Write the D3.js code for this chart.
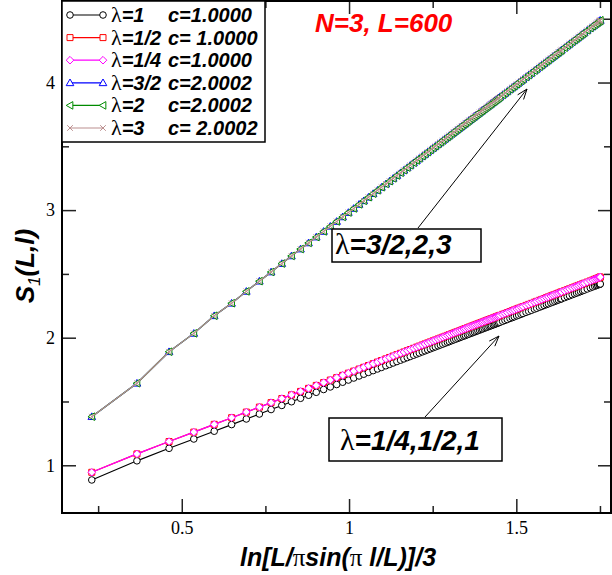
<!DOCTYPE html>
<html><head><meta charset="utf-8">
<script src="https://cdn.jsdelivr.net/npm/d3@7"></script>
<style>body{margin:0;background:#fff}svg{display:block}</style>
</head><body><svg id="c" width="612" height="575"></svg>
<script>
// x = ln[L/pi sin(pi l/L)]/3 (l = 2 ... 300)
const xValues = [0.231,0.366,0.462,0.536,0.597,0.649,0.693,0.732,0.767,0.799,
 0.828,0.855,0.879,0.902,0.924,0.944,0.963,0.981,0.998,1.014,
 1.030,1.044,1.058,1.072,1.085,1.097,1.110,1.121,1.132,
 1.143,1.154,1.164,1.174,1.183,1.193,1.202,1.210,1.219,1.227,
 1.235,1.243,1.251,1.258,1.266,1.273,1.280,1.287,1.294,1.300,
 1.307,1.313,1.319,1.325,1.331,1.337,1.343,1.348,1.354,1.359,
 1.365,1.370,1.375,1.380,1.385,1.390,1.395,1.399,1.404,1.409,
 1.413,1.418,1.422,1.426,1.431,1.435,1.439,1.443,1.447,1.451,
 1.459,1.466,1.473,1.481,1.488,1.494,1.501,1.507,1.514,1.520,
 1.529,1.537,1.545,1.554,1.561,1.569,1.576,1.583,1.590,1.596,
 1.603,1.609,1.615,1.621,1.626,1.632,
 1.635,1.644,1.652,1.659,1.667,1.674,1.680,1.686,1.692,1.698,1.703,
 1.712,1.721,1.728,1.734,1.739,1.743,1.747,1.749,1.750,1.751];

// lambda = 1
const sLambda1 = [0.885,1.035,1.133,1.206,1.267,1.319,1.363,1.402,1.437,1.469,
 1.498,1.525,1.549,1.572,1.594,1.614,1.633,1.651,1.668,1.684,
 1.700,1.714,1.728,1.742,1.755,1.767,1.780,1.791,1.802,
 1.813,1.824,1.834,1.844,1.853,1.863,1.872,1.880,1.889,1.897,
 1.905,1.913,1.921,1.928,1.936,1.943,1.950,1.957,1.964,1.970,
 1.977,1.983,1.989,1.995,2.001,2.007,2.013,2.018,2.024,2.029,
 2.035,2.040,2.045,2.050,2.055,2.060,2.065,2.069,2.074,2.079,
 2.083,2.088,2.092,2.096,2.101,2.105,2.109,2.113,2.117,2.121,
 2.129,2.136,2.143,2.151,2.158,2.164,2.171,2.177,2.184,2.190,
 2.199,2.207,2.215,2.224,2.231,2.239,2.246,2.253,2.260,2.266,
 2.273,2.279,2.285,2.291,2.296,2.302,
 2.305,2.314,2.322,2.329,2.337,2.344,2.350,2.356,2.362,2.368,2.373,
 2.382,2.391,2.398,2.404,2.409,2.413,2.417,2.419,2.420,2.421];

// lambda = 1/2 and 1/4 (coincide in the picture)
const sLambdaHalfQuarter = [0.945,1.089,1.186,1.260,1.321,1.373,1.417,1.456,1.491,1.523,
 1.552,1.579,1.603,1.626,1.648,1.668,1.687,1.705,1.722,1.738,
 1.754,1.768,1.782,1.796,1.809,1.821,1.834,1.845,1.856,
 1.867,1.878,1.888,1.898,1.907,1.917,1.926,1.934,1.943,1.951,
 1.959,1.967,1.975,1.982,1.990,1.997,2.004,2.011,2.018,2.024,
 2.031,2.037,2.043,2.049,2.055,2.061,2.067,2.072,2.078,2.083,
 2.089,2.094,2.099,2.104,2.109,2.114,2.119,2.123,2.128,2.133,
 2.137,2.142,2.146,2.150,2.155,2.159,2.163,2.167,2.171,2.175,
 2.183,2.190,2.197,2.205,2.212,2.218,2.225,2.231,2.238,2.244,
 2.253,2.261,2.269,2.278,2.285,2.293,2.300,2.307,2.314,2.320,
 2.327,2.333,2.339,2.345,2.350,2.356,
 2.359,2.368,2.376,2.383,2.391,2.398,2.404,2.410,2.416,2.422,2.427,
 2.436,2.445,2.452,2.458,2.463,2.467,2.471,2.473,2.474,2.475];

// lambda = 3/2, 2, 3 (coincide in the picture)
const sLambdaUpper = [1.381,1.643,1.890,2.034,2.172,2.270,2.363,2.443,2.515,2.581,
 2.641,2.695,2.743,2.789,2.833,2.873,2.911,2.947,2.981,3.013,
 3.045,3.073,3.101,3.129,3.155,3.179,3.205,3.227,3.249,
 3.271,3.293,3.313,3.333,3.351,3.371,3.389,3.405,3.423,3.439,
 3.455,3.471,3.487,3.501,3.517,3.531,3.545,3.559,3.573,3.585,
 3.599,3.611,3.623,3.635,3.647,3.659,3.671,3.681,3.693,3.703,
 3.715,3.725,3.735,3.745,3.755,3.765,3.775,3.783,3.793,3.803,
 3.811,3.821,3.829,3.837,3.847,3.855,3.863,3.871,3.879,3.887,
 3.903,3.917,3.931,3.947,3.961,3.973,3.987,3.999,4.013,4.025,
 4.043,4.059,4.075,4.093,4.107,4.123,4.137,4.151,4.165,4.177,
 4.191,4.203,4.215,4.227,4.237,4.249,
 4.255,4.273,4.289,4.303,4.319,4.333,4.345,4.357,4.369,4.381,4.391,
 4.409,4.427,4.441,4.453,4.463,4.471,4.479,4.483,4.485,4.487];

const lambdaLabels = ["1","1/2","1/4","3/2","2","3"];
const cLabels = ["c=1.0000","c= 1.0000","c=1.0000","c=2.0002","c=2.0002","c= 2.0002"];
const xMajorTicks = [0.5, 1, 1.5];
const xMinorTicks = [0.25, 0.75, 1.25, 1.75];
const yMajorTicks = [1, 2, 3, 4];
const yMinorTicks = [1.5, 2.5, 3.5, 4.5];

const series = [
  {values: sLambda1, color: "#000000", sym: "circle"},
  {values: sLambdaHalfQuarter, color: "#ff0000", sym: "square"},
  {values: sLambdaHalfQuarter, color: "#ff00ff", sym: "diamond"},
  {values: sLambdaUpper, color: "#0000ff", sym: "triUp"},
  {values: sLambdaUpper, color: "#008b00", sym: "triLeft"},
  {values: sLambdaUpper, color: "#bc8f8f", sym: "cross"}
];

const svg = d3.select("#c");
const P = {l: 62, r: 611, t: 1, b: 513};
const x = d3.scaleLinear().domain([0.142, 1.783]).range([P.l, P.r]);
const y = d3.scaleLinear().domain([0.626, 4.639]).range([P.b, P.t]);

function symPath(type, cx, cy) {
  const s = 3.3;
  switch (type) {
    case "circle": return `M${cx+s},${cy}A${s},${s} 0 1,1 ${cx-s},${cy}A${s},${s} 0 1,1 ${cx+s},${cy}Z`;
    case "square": { const h = 3; return `M${cx-h},${cy-h}H${cx+h}V${cy+h}H${cx-h}Z`; }
    case "diamond": { const h = 3.8; return `M${cx},${cy-h}L${cx+h},${cy}L${cx},${cy+h}L${cx-h},${cy}Z`; }
    case "triUp": { const h = 3.8; return `M${cx},${cy-h}L${cx+h},${cy+h*0.75}L${cx-h},${cy+h*0.75}Z`; }
    case "triLeft": { const h = 3.8; return `M${cx-h},${cy}L${cx+h*0.75},${cy-h}L${cx+h*0.75},${cy+h}Z`; }
    case "cross": { const h = 2.8; return `M${cx-h},${cy-h}L${cx+h},${cy+h}M${cx-h},${cy+h}L${cx+h},${cy-h}`; }
  }
}

// ticks
const tickStyle = g => { g.select(".domain").remove(); g.selectAll(".tick line").attr("stroke", "#222").attr("stroke-width", 1.5); };
const labelFont = g => g.selectAll("text").attr("font-family", "Liberation Serif, Times New Roman, serif").attr("font-size", 18).attr("fill", "#000");

svg.append("g").attr("transform", `translate(0,${P.b})`)
  .call(d3.axisBottom(x).tickValues(xMajorTicks).tickSizeInner(-14).tickSizeOuter(0).tickPadding(8).tickFormat(d3.format("~g")))
  .call(tickStyle).call(labelFont);
svg.append("g").attr("transform", `translate(0,${P.b})`)
  .call(d3.axisBottom(x).tickValues(xMinorTicks).tickSizeInner(-7).tickSizeOuter(0).tickFormat(""))
  .call(tickStyle);
svg.append("g").attr("transform", `translate(${P.l},0)`)
  .call(d3.axisLeft(y).tickValues(yMajorTicks).tickSizeInner(-14).tickSizeOuter(0).tickPadding(7).tickFormat(d3.format("d")))
  .call(tickStyle).call(labelFont);
svg.append("g").attr("transform", `translate(${P.l},0)`)
  .call(d3.axisLeft(y).tickValues(yMinorTicks).tickSizeInner(-7).tickSizeOuter(0).tickFormat(""))
  .call(tickStyle);
svg.append("g").attr("transform", `translate(0,${P.t})`)
  .call(d3.axisTop(x).tickValues(xMajorTicks).tickSizeInner(-13).tickSizeOuter(0).tickFormat(""))
  .call(tickStyle);
svg.append("g").attr("transform", `translate(0,${P.t})`)
  .call(d3.axisTop(x).tickValues(xMinorTicks).tickSizeInner(-7).tickSizeOuter(0).tickFormat(""))
  .call(tickStyle);
svg.append("g").attr("transform", `translate(${P.r},0)`)
  .call(d3.axisRight(y).tickValues(yMajorTicks).tickSizeInner(-13).tickSizeOuter(0).tickFormat(""))
  .call(tickStyle);
svg.append("g").attr("transform", `translate(${P.r},0)`)
  .call(d3.axisRight(y).tickValues(yMinorTicks).tickSizeInner(-7).tickSizeOuter(0).tickFormat(""))
  .call(tickStyle);

// frame
svg.append("rect").attr("x", P.l).attr("y", P.t).attr("width", P.r - P.l).attr("height", P.b - P.t)
  .attr("fill", "none").attr("stroke", "#000").attr("stroke-width", 2);

// data
svg.append("clipPath").attr("id", "clip").append("rect")
  .attr("x", P.l).attr("y", P.t).attr("width", P.r - P.l).attr("height", P.b - P.t);
const dataG = svg.append("g").attr("clip-path", "url(#clip)");
const line = d3.line().x((d, i) => x(xValues[i])).y(d => y(d));
series.forEach(s => {
  dataG.append("path").attr("d", line(s.values)).attr("fill", "none")
    .attr("stroke", s.color).attr("stroke-width", 1.2);
  dataG.append("g").selectAll("path").data(s.values).join("path")
    .attr("d", (d, i) => symPath(s.sym, x(xValues[i]), y(d)))
    .attr("fill", s.sym === "cross" ? "none" : "#fff")
    .attr("stroke", s.color).attr("stroke-width", 1);
});

// legend
const lg = svg.append("g");
lg.append("rect").attr("x", 62).attr("y", 1).attr("width", 203).attr("height", 141)
  .attr("fill", "#fff").attr("stroke", "#000").attr("stroke-width", 1.5);
series.forEach((s, i) => {
  const yy = 15 + i * 22.6;
  lg.append("line").attr("x1", 70).attr("x2", 103).attr("y1", yy).attr("y2", yy)
    .attr("stroke", s.color).attr("stroke-width", 1.2);
  [70, 103].forEach(px => lg.append("path").attr("d", symPath(s.sym, px, yy))
    .attr("fill", s.sym === "cross" ? "none" : "#fff").attr("stroke", s.color).attr("stroke-width", 1));
  const t = lg.append("text").attr("x", 111).attr("y", yy + 7)
    .attr("font-family", "Liberation Sans, Arial, sans-serif").attr("font-size", 20)
    .attr("font-weight", "bold").attr("font-style", "italic");
  t.append("tspan").attr("font-family", "Liberation Serif, serif").attr("font-size", 22).attr("font-weight", "normal").attr("font-style", "normal").text("λ");
  t.append("tspan").text("=" + lambdaLabels[i]);
  lg.append("text").attr("x", 168).attr("y", yy + 7)
    .attr("font-family", "Liberation Sans, Arial, sans-serif").attr("font-size", 20)
    .attr("font-weight", "bold").attr("font-style", "italic").attr("xml:space", "preserve")
    .style("white-space", "pre").text(cLabels[i]);
});

// title
svg.append("text").attr("x", 315).attr("y", 32).attr("fill", "#ff0000")
  .attr("font-family", "Liberation Sans, Arial, sans-serif").attr("font-size", 26)
  .attr("font-weight", "bold").attr("font-style", "italic").text("N=3, L=600");

// annotations
function annot(bx, by, bw, bh, tx, ty, label, ax1, ay1, ax2, ay2) {
  const g = svg.append("g");
  g.append("line").attr("x1", ax1).attr("y1", ay1).attr("x2", ax2).attr("y2", ay2).attr("stroke", "#000").attr("stroke-width", 1);
  const ang = Math.atan2(ay2 - ay1, ax2 - ax1), L = 11, w = 0.35;
  g.append("path").attr("d", `M${ax2 - L*Math.cos(ang - w)},${ay2 - L*Math.sin(ang - w)}L${ax2},${ay2}L${ax2 - L*Math.cos(ang + w)},${ay2 - L*Math.sin(ang + w)}`)
    .attr("fill", "none").attr("stroke", "#000").attr("stroke-width", 1);
  g.append("rect").attr("x", bx).attr("y", by).attr("width", bw).attr("height", bh)
    .attr("fill", "#fff").attr("stroke", "#000").attr("stroke-width", 1.5);
  const t = g.append("text").attr("x", tx).attr("y", ty)
    .attr("font-family", "Liberation Sans, Arial, sans-serif").attr("font-size", 28)
    .attr("font-weight", "bold").attr("font-style", "italic");
  t.append("tspan").attr("font-family", "Liberation Serif, serif").attr("font-size", 30).attr("font-weight", "normal").attr("font-style", "normal").text("λ");
  t.append("tspan").text(label);
}
annot(332, 229, 149, 33, 335, 254, "=3/2,2,3", 418, 228, 527, 89);
annot(329, 418, 173, 43, 340, 450, "=1/4,1/2,1", 425, 417, 499, 336);

// axis titles
const xt = svg.append("text").attr("x", 338).attr("y", 566).attr("text-anchor", "middle")
  .attr("font-family", "Liberation Sans, Arial, sans-serif").attr("font-size", 25)
  .attr("font-weight", "bold").attr("font-style", "italic");
xt.append("tspan").text("ln[L/");
xt.append("tspan").attr("font-family", "Liberation Serif, serif").attr("font-weight", "normal").attr("font-style", "normal").text("π");
xt.append("tspan").text("sin(");
xt.append("tspan").attr("font-family", "Liberation Serif, serif").attr("font-weight", "normal").attr("font-style", "normal").text("π");
xt.append("tspan").text(" l/L)]/3");

const yt = svg.append("text").attr("transform", "translate(34,266) rotate(-90)").attr("text-anchor", "middle")
  .attr("font-family", "Liberation Sans, Arial, sans-serif").attr("font-size", 26)
  .attr("font-weight", "bold").attr("font-style", "italic");
yt.append("tspan").text("S");
yt.append("tspan").attr("font-size", 17).attr("font-weight", "normal").attr("dy", 6).text("1");
yt.append("tspan").attr("dy", -6).text("(L,l)");
</script></body></html>
